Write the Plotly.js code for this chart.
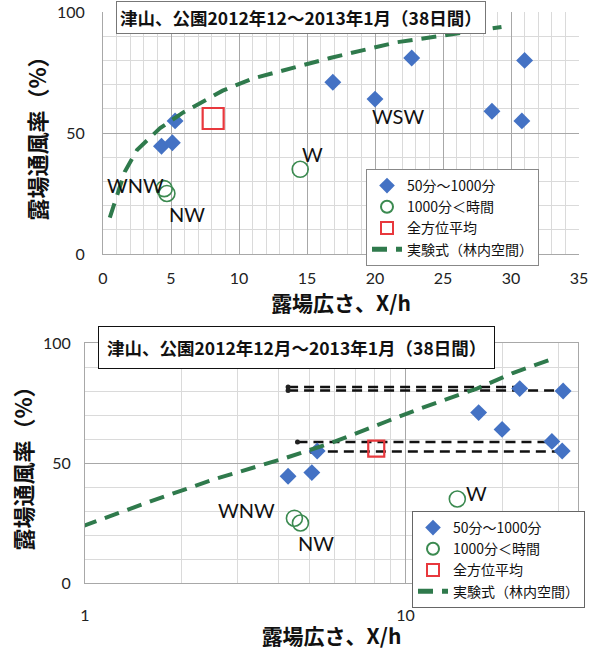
<!DOCTYPE html>
<html>
<head>
<meta charset="utf-8">
<script src="https://cdn.plot.ly/plotly-3.0.1.min.js"></script>
<style>
html,body{margin:0;padding:0;background:#fff;}
#chart{width:600px;height:650px;}
</style>
</head>
<body>
<div id="chart"></div>
<script>
// ---- data ----
const dirX = [4.3, 5.1, 5.3, 16.9, 20.0, 22.7, 28.6, 30.8, 31.0];   // 50分～1000分
const dirY = [44.5, 46, 55, 71, 64, 81, 59, 55, 80];
const longX = [4.5, 4.7, 14.5];                                    // 1000分＜時間
const longY = [27, 25, 35];
const longLabels = ["WNW", "NW", "W"];
const avgX = [8.1];                                                // 全方位平均
const avgY = [56];
const curveX = [0.5, 1, 1.6, 2.5, 4.2, 5.9, 8.8, 11, 16.7, 21.6, 29.3]; // 実験式（林内空間）
const curveY = [15, 24, 34, 43, 52, 58.5, 67.5, 72.5, 81, 87.5, 93.8];
const refStartX = [4.3, 4.3, 4.6, 5.1];                            // black dashed guides (lower chart)
const refEndX = [22.5, 31.0, 28.5, 31.0];
const refY = [81.7, 80.2, 58.8, 54.8];
const seriesNames = ["50分～1000分", "1000分＜時間", "全方位平均", "実験式（林内空間）"];
const titleTop = "津山、公園2012年12～2013年1月（38日間）";
const titleBottom = "津山、公園2012年12月～2013年1月（38日間）";
const xTitle = "露場広さ、X/h";
const yTitle = "露場通風率（%）";
const xTicksTop = [0, 5, 10, 15, 20, 25, 30, 35];
const xTicksBottom = [1, 10];
const xMinorBottom = [2, 3, 4, 5, 6, 7, 8, 9, 20, 30];
const yTicks = [0, 50, 100];

// ---- styles ----
const FONT = "Lato, 'Noto Sans CJK JP', sans-serif";
const CJK = "'Noto Sans CJK JP', sans-serif";
const BLUE = "#4472c4", GREEN = "#3b8a50", CURVE = "#2f7a4c", RED = "#e8383d";

function seriesTraces(xa, ya, lg, circleSize, squareSize) {
  return [
    {x: dirX, y: dirY, xaxis: xa, yaxis: ya, legend: lg, type: "scatter", mode: "markers",
     name: seriesNames[0], marker: {symbol: "diamond", size: 13, color: BLUE}},
    {x: longX, y: longY, xaxis: xa, yaxis: ya, legend: lg, type: "scatter", mode: "markers",
     name: seriesNames[1], marker: {symbol: "circle-open", size: circleSize, color: GREEN, line: {width: 1.6, color: GREEN}}},
    {x: avgX, y: avgY, xaxis: xa, yaxis: ya, legend: lg, type: "scatter", mode: "markers",
     name: seriesNames[2], marker: {symbol: "square-open", size: squareSize, color: RED, line: {width: 2.2, color: RED}}},
    {x: curveX, y: curveY, xaxis: xa, yaxis: ya, legend: lg, type: "scatter", mode: "lines",
     name: seriesNames[3], line: {color: CURVE, width: 4, dash: "15px,9px"}}
  ];
}

const traces = [];
// reference lines (lower chart) drawn first so markers sit on top
for (let i = 0; i < refY.length; i++) {
  traces.push({x: [refStartX[i], refEndX[i]], y: [refY[i], refY[i]], xaxis: "x2", yaxis: "y2",
    type: "scatter", mode: "lines", showlegend: false, hoverinfo: "skip",
    line: {color: "#111", width: 2.5, dash: "10px,6px"}});
  traces.push({x: [refStartX[i]], y: [refY[i]], xaxis: "x2", yaxis: "y2",
    type: "scatter", mode: "markers", showlegend: false, hoverinfo: "skip",
    marker: {symbol: "circle", size: 5, color: "#222"}});
}
traces.push(...seriesTraces("x", "y", "legend", 16, 21));
traces.push(...seriesTraces("x2", "y2", "legend2", 16, 16));

const W = 600, H = 650;
const px = v => v / W, py = v => 1 - v / H;

const gridMajor = "#a8a8a8", gridMinor = "#dadada";
const tickFont = {family: FONT, size: 16, color: "#222"};
const axTitleFont = {family: CJK, size: 21, color: "#111", weight: "bold"};

const layout = {
  width: W, height: H,
  margin: {l: 0, r: 0, t: 0, b: 0},
  paper_bgcolor: "#fff", plot_bgcolor: "#fff",
  showlegend: true,
  font: {family: FONT, color: "#111"},
  xaxis: {
    domain: [px(103), px(579)], anchor: "y", range: [0, 35],
    tickvals: xTicksTop, ticktext: xTicksTop.map(String), tickfont: tickFont,
    ticks: "outside", ticklen: 10, tickcolor: "rgba(0,0,0,0)",
    showgrid: true, gridcolor: gridMajor, gridwidth: 1,
    minor: {dtick: 1, showgrid: true, gridcolor: gridMinor, gridwidth: 1},
    showline: true, linecolor: gridMajor, zeroline: false,
    title: {text: "<b>" + xTitle + "</b>", font: axTitleFont, standoff: 2}
  },
  yaxis: {
    domain: [py(254), py(12)], anchor: "x", range: [0, 100],
    tickvals: yTicks, ticktext: yTicks.map(String), tickfont: tickFont,
    ticks: "outside", ticklen: 14, tickcolor: "rgba(0,0,0,0)",
    showgrid: true, gridcolor: gridMajor, gridwidth: 1,
    minor: {dtick: 10, showgrid: true, gridcolor: gridMinor, gridwidth: 1},
    showline: true, linecolor: gridMajor, zeroline: false,
    title: {text: "<b>" + yTitle + "</b>", font: {family: CJK, size: 22, color: "#111", weight: "bold"}, standoff: 4}
  },
  xaxis2: {
    domain: [px(85), px(578)], anchor: "y2", type: "log", range: [0, Math.log10(34.5)],
    tickvals: xTicksBottom, ticktext: xTicksBottom.map(String), tickfont: tickFont,
    ticks: "outside", ticklen: 18, tickcolor: "rgba(0,0,0,0)",
    showgrid: true, gridcolor: gridMajor, gridwidth: 1,
    minor: {tickmode: "array", tickvals: xMinorBottom, showgrid: true, gridcolor: gridMinor, gridwidth: 1, ticklen: 0},
    showline: true, linecolor: gridMajor, mirror: true, zeroline: false,
    title: {text: "<b>" + xTitle + "</b>", font: axTitleFont, standoff: 0}
  },
  yaxis2: {
    domain: [py(583), py(343)], anchor: "x2", range: [0, 100],
    tickvals: yTicks, ticktext: yTicks.map(String), tickfont: tickFont,
    ticks: "outside", ticklen: 10, tickcolor: "rgba(0,0,0,0)",
    showgrid: true, gridcolor: gridMajor, gridwidth: 1,
    minor: {dtick: 10, showgrid: true, gridcolor: gridMinor, gridwidth: 1},
    showline: true, linecolor: gridMajor, mirror: true, zeroline: false,
    title: {text: "<b>" + yTitle + "</b>", font: {family: CJK, size: 22, color: "#111", weight: "bold"}, standoff: 4}
  },
  legend: {
    x: px(366), y: py(169), xanchor: "left", yanchor: "top",
    bgcolor: "#fff", bordercolor: "#888", borderwidth: 1,
    font: {family: CJK, size: 14, color: "#111"}, itemsizing: "constant",
    tracegroupgap: 0, traceorder: "normal"
  },
  legend2: {
    x: px(412), y: py(511), xanchor: "left", yanchor: "top",
    bgcolor: "#fff", bordercolor: "#666", borderwidth: 1,
    font: {family: CJK, size: 14, color: "#111"}, itemsizing: "constant",
    tracegroupgap: 0, traceorder: "normal"
  },
  annotations: [
    {xref: "paper", yref: "paper", x: px(301), y: py(18), xanchor: "center", yanchor: "middle",
     text: "<b>" + titleTop + "</b>", showarrow: false,
     font: {family: CJK, size: 17.5, color: "#111"}, bgcolor: "#fff", bordercolor: "#777", borderwidth: 1, borderpad: 3},
    {xref: "paper", yref: "paper", x: px(296), y: py(347), xanchor: "center", yanchor: "middle",
     text: "<b>" + titleBottom + "</b>", showarrow: false,
     font: {family: CJK, size: 17.5, color: "#111"}, bgcolor: "#fff", bordercolor: "#111", borderwidth: 1, borderpad: 8},
    // direction labels, upper chart
    {xref: "x", yref: "y", x: 2.4, y: 28.5, text: longLabels[0], showarrow: false, font: {family: FONT, size: 20, color: "#111"}},
    {xref: "x", yref: "y", x: 6.2, y: 16.5, text: longLabels[1], showarrow: false, font: {family: FONT, size: 20, color: "#111"}},
    {xref: "x", yref: "y", x: 15.4, y: 41.3, text: longLabels[2], showarrow: false, font: {family: FONT, size: 20, color: "#111"}},
    {xref: "x", yref: "y", x: 21.7, y: 57, text: "WSW", showarrow: false, font: {family: FONT, size: 20, color: "#111"}},
    // direction labels, lower chart (log axis: x in log10 units)
    {xref: "x2", yref: "y2", x: Math.log10(3.2), y: 30.4, text: longLabels[0], showarrow: false, font: {family: FONT, size: 20, color: "#111"}},
    {xref: "x2", yref: "y2", x: Math.log10(5.25), y: 16.7, text: longLabels[1], showarrow: false, font: {family: FONT, size: 20, color: "#111"}},
    {xref: "x2", yref: "y2", x: Math.log10(16.6), y: 37.5, text: longLabels[2], showarrow: false, font: {family: FONT, size: 20, color: "#111"}}
  ]
};

Plotly.newPlot("chart", traces, layout, {displayModeBar: false, staticPlot: true});
</script>
</body>
</html>
